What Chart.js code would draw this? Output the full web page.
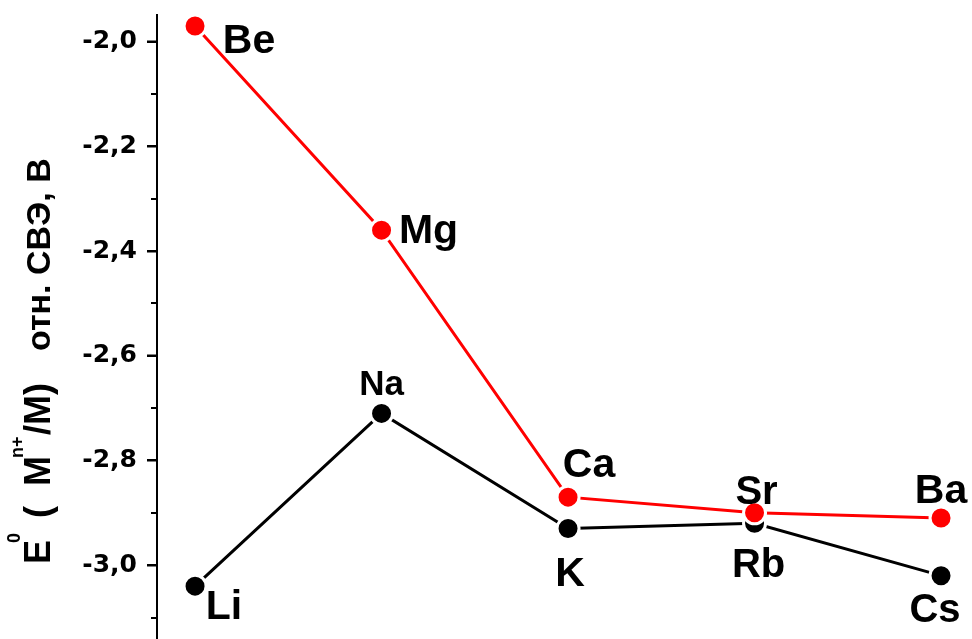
<!DOCTYPE html>
<html>
<head>
<meta charset="utf-8">
<script src="https://cdn.jsdelivr.net/npm/chart.js@4.4.0/dist/chart.umd.min.js"></script>
<style>
  html, body { margin: 0; padding: 0; background: #fff; overflow: hidden; }
  #wrap { width: 972px; height: 639px; position: relative; }
</style>
</head>
<body>
<div id="wrap"><canvas id="potChart"></canvas></div>
<script>
// стандартные потенциалы E0, В (отн. СВЭ)
const groupPos = [1, 2, 3, 4, 5];
const alkaliNames = ['Li', 'Na', 'K', 'Rb', 'Cs'];
const alkaliE0 = [-3.04, -2.71, -2.93, -2.92, -3.02];
const earthNames = ['Be', 'Mg', 'Ca', 'Sr', 'Ba'];
const earthE0 = [-1.97, -2.36, -2.87, -2.90, -2.91];

const FONT = '"Liberation Sans", Arial, sans-serif';

// подписи элементов рядом с точками: [dx, dy, размер шрифта]
const earthLabelPos = [[54, 27, 41], [47, 13, 41], [21, -20, 41], [2, -9, 40], [0, -15, 41]];
const alkaliLabelPos = [[29, 33, 41], [0, -18, 35], [2, 57, 41], [4, 54, 40], [-6, 46, 40]];

function toPoints(vals) {
  return vals.map((v, i) => ({ x: groupPos[i], y: v }));
}

const nameLabels = {
  id: 'nameLabels',
  afterDatasetsDraw(chart) {
    const ctx = chart.ctx;
    ctx.save();
    ctx.textAlign = 'center';
    ctx.textBaseline = 'alphabetic';
    ctx.fillStyle = '#000';
    chart.data.datasets.forEach((ds, di) => {
      const meta = chart.getDatasetMeta(di);
      meta.data.forEach((pt, i) => {
        const p = ds.labelPos[i];
        ctx.font = 'bold ' + p[2] + 'px ' + FONT;
        ctx.fillText(ds.names[i], pt.x + p[0], pt.y + p[1]);
      });
    });
    ctx.restore();
  }
};

// деления оси Y: большие у подписей, малые через 0,1 между ними
const axisTicks = {
  id: 'axisTicks',
  afterDraw(chart) {
    const y = chart.scales.y;
    const ctx = chart.ctx;
    const x0 = chart.chartArea.left;
    ctx.save();
    ctx.strokeStyle = '#000';
    ctx.lineWidth = 2;
    for (let k = -32; k <= -19; k++) {
      const v = k / 10;
      if (v < y.min || v > y.max) continue;
      const len = k % 2 === 0 ? 10 : 6;
      const py = Math.round(y.getPixelForValue(v));
      ctx.beginPath();
      ctx.moveTo(x0 - len, py);
      ctx.lineTo(x0, py);
      ctx.stroke();
    }
    ctx.beginPath();
    ctx.moveTo(x0, chart.chartArea.top);
    ctx.lineTo(x0, chart.chartArea.bottom);
    ctx.stroke();
    ctx.restore();
  }
};

// подпись оси Y с индексами
const axisTitle = {
  id: 'axisTitle',
  afterDraw(chart) {
    const ctx = chart.ctx;
    const big = 'bold 36px ' + FONT;
    const sup = 'bold 18px ' + FONT;
    const parts = [
      ['E', 564, big, 0],
      ['0', 543, sup, -30],
      ['(', 518, big, 0],
      ['M', 486, big, 0],
      ['n+', 458, sup, -27],
      ['/M)', 435, big, 0],
      ['отн. СВЭ, В', 351, 'bold 34px ' + FONT, 0]
    ];
    ctx.save();
    ctx.translate(50, 0);
    ctx.rotate(-Math.PI / 2);
    ctx.fillStyle = '#000';
    ctx.textAlign = 'left';
    ctx.textBaseline = 'alphabetic';
    parts.forEach(([t, sy, f, v]) => {
      ctx.font = f;
      ctx.fillText(t, -sy, v);
    });
    ctx.restore();
  }
};

new Chart(document.getElementById('potChart'), {
  type: 'line',
  data: {
    datasets: [
      {
        data: toPoints(earthE0),
        names: earthNames,
        labelPos: earthLabelPos,
        borderColor: '#ff0000',
        backgroundColor: '#ff0000',
        borderWidth: 3,
        pointRadius: 11,
        pointHoverRadius: 11,
        pointBackgroundColor: '#ff0000',
        pointBorderColor: '#ffffff',
        pointBorderWidth: 3,
        tension: 0,
        clip: false
      },
      {
        data: toPoints(alkaliE0),
        names: alkaliNames,
        labelPos: alkaliLabelPos,
        borderColor: '#000000',
        backgroundColor: '#000000',
        borderWidth: 3,
        pointRadius: 11,
        pointHoverRadius: 11,
        pointBackgroundColor: '#000000',
        pointBorderColor: '#ffffff',
        pointBorderWidth: 3,
        tension: 0,
        clip: false
      }
    ]
  },
  options: {
    responsive: true,
    maintainAspectRatio: false,
    animation: false,
    events: [],
    layout: {
      autoPadding: false,
      padding: { top: 15, right: 0, bottom: 0, left: 0 }
    },
    plugins: {
      legend: { display: false },
      tooltip: { enabled: false }
    },
    scales: {
      x: {
        type: 'linear',
        display: false,
        min: 0.796,
        max: 5.166
      },
      y: {
        type: 'linear',
        min: -3.141,
        max: -1.949,
        afterFit(s) {
          s.width = 157;
          s.paddingTop = 0;
          s.paddingBottom = 0;
        },
        border: { display: true, color: '#000', width: 2 },
        grid: {
          drawOnChartArea: false,
          drawTicks: true,
          tickLength: 10,
          tickWidth: 2,
          tickColor: '#000'
        },
        ticks: {
          stepSize: 0.2,
          includeBounds: false,
          padding: 10,
          color: '#000',
          font: { family: '"DejaVu Sans", sans-serif', weight: 'bold', size: 25 },
          callback: v => v.toFixed(1).replace('.', ',')
        }
      }
    }
  },
  plugins: [nameLabels, axisTicks, axisTitle]
});
</script>
</body>
</html>
